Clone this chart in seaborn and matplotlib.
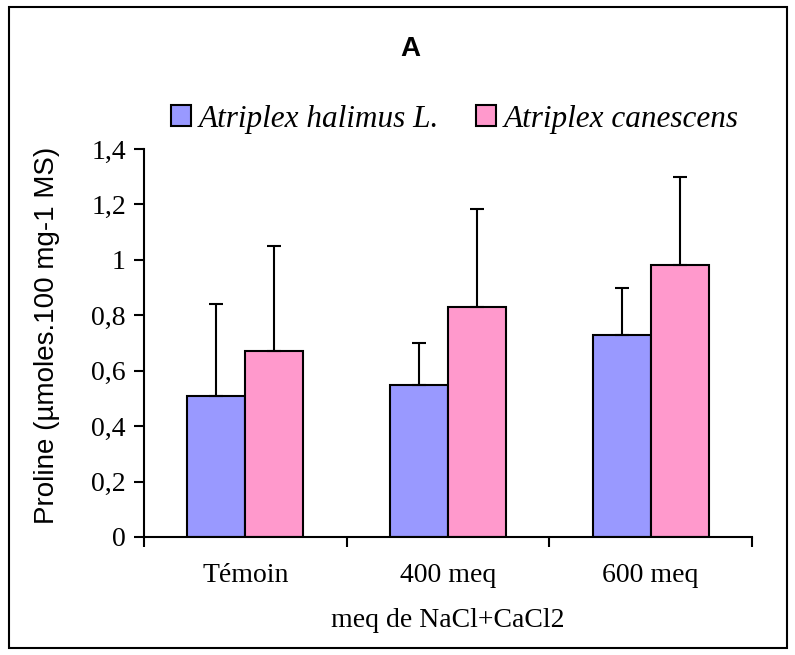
import pandas as pd
import seaborn as sns
import matplotlib.pyplot as plt
from matplotlib.patches import Rectangle
from matplotlib.font_manager import FontProperties

# data
traitements = ["Témoin", "400 meq", "600 meq"]
especes = ["Atriplex halimus L.", "Atriplex canescens"]
halimus = [0.51, 0.55, 0.73]
halimus_sd = [0.33, 0.15, 0.17]
canescens = [0.67, 0.83, 0.98]
canescens_sd = [0.38, 0.355, 0.32]
yticks = [0, 0.2, 0.4, 0.6, 0.8, 1.0, 1.2, 1.4]
ytick_labels = ["0", "0,2", "0,4", "0,6", "0,8", "1", "1,2", "1,4"]

df = pd.DataFrame({
    "traitement": traitements * 2,
    "espece": [especes[0]] * 3 + [especes[1]] * 3,
    "proline": halimus + canescens,
})
sds = [halimus_sd, canescens_sd]

serif = "Liberation Serif"
sans = "Liberation Sans"
palette = ["#9999FF", "#FF99CC"]

sns.set_style("ticks")
plt.rcParams["font.family"] = [serif, "DejaVu Sans"]
for k in ["text.color", "axes.labelcolor", "xtick.color", "ytick.color"]:
    plt.rcParams[k] = "black"

fig = plt.figure(figsize=(7.95, 6.55), dpi=100)
ax = fig.add_axes([144 / 795, 118 / 655, 608 / 795, 388 / 655])

sns.barplot(data=df, x="traitement", y="proline", hue="espece", order=traitements,
            hue_order=especes, palette=palette, width=0.572, edgecolor="black",
            linewidth=1.5, errorbar=None, saturation=1, ax=ax)

# upper error bars only
for cont, sd in zip(ax.containers, sds):
    xs = [b.get_x() + b.get_width() / 2 for b in cont]
    hs = [b.get_height() for b in cont]
    ax.errorbar(xs, hs, yerr=[[0] * len(sd), sd], fmt="none", ecolor="black",
                elinewidth=1.5, capsize=5, capthick=1.5, zorder=1)

ax.set_xlim(-0.5, 2.5)
ax.set_ylim(0, 1.4)
ax.set_yticks(yticks)
ax.set_yticklabels(ytick_labels)
ax.set_xticks([-0.5, 0.5, 1.5, 2.5], minor=True)
ax.tick_params(axis="x", which="major", length=0, pad=19, labelsize=20)
ax.tick_params(axis="x", which="minor", length=7, width=1.5, direction="out")
ax.tick_params(axis="y", length=7, width=1.5, direction="out", pad=6, labelsize=20)
for s in ["top", "right"]:
    ax.spines[s].set_visible(False)
for s in ["left", "bottom"]:
    ax.spines[s].set_linewidth(1.5)
    ax.spines[s].set_color("black")

ax.set_xlabel("meq de NaCl+CaCl2", fontsize=20, labelpad=14)
ax.set_ylabel("")
ax.get_legend().remove()

fig.text(47 / 795, 1 - 335 / 655, "Proline (µmoles.100 mg-1 MS)", rotation=90,
         ha="center", va="center", family=sans, fontsize=20)
fig.text(410 / 795, 1 - 49 / 655, "A", ha="center", va="center", family=sans,
         fontsize=20, fontweight="bold")

handles = [Rectangle((0, 0), 1, 1, facecolor=c, edgecolor="black", linewidth=1.5) for c in palette]
fig.legend(handles, especes, loc="center", bbox_to_anchor=(455 / 795, 1 - 119 / 655),
           ncol=2, frameon=False, prop=FontProperties(family=serif, style="italic", size=22.5),
           handlelength=0.62, handleheight=0.62, handletextpad=0.25, columnspacing=1.2)

fig.patches.append(Rectangle((9 / 795, 7 / 655), 778 / 795, 641 / 655, transform=fig.transFigure,
                             fill=False, edgecolor="black", linewidth=1.5))

fig.savefig("out.png", dpi=100)
